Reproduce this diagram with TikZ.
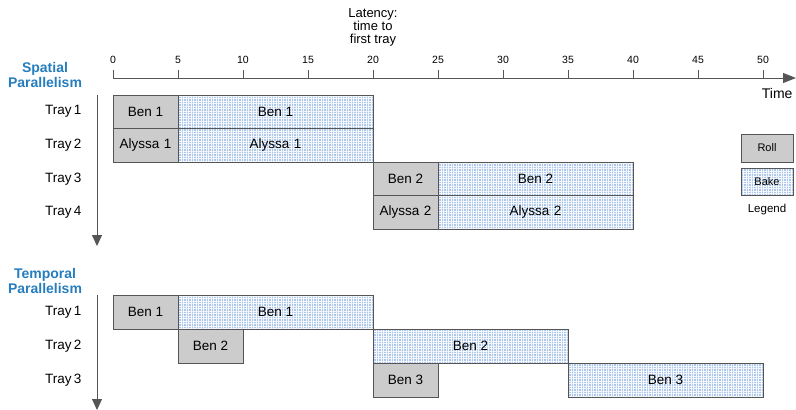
\documentclass[tikz,border=0pt]{standalone}
\usepackage{fontspec}
\setmainfont{Liberation Sans}
\usetikzlibrary{arrows.meta,patterns.meta}
\definecolor{titleblue}{RGB}{38,125,190}
\definecolor{rollfill}{RGB}{204,204,204}
\definecolor{edge}{RGB}{85,85,85}
\definecolor{bakebg}{RGB}{172,199,234}
\definecolor{bakeline}{RGB}{245,248,252}
\tikzdeclarepattern{
  name=finegrid,
  type=uncolored,
  bottom left={(-.1pt,-.1pt)},
  top right={(2.6pt,2.6pt)},
  tile size={(2.5pt,2.5pt)},
  code={\draw[line width=.7pt] (0,1.25pt) -- (2.5pt,1.25pt); \draw[line width=.6pt] (1.25pt,0) -- (1.25pt,2.5pt);}
}
\tikzset{
  box/.style={draw=edge, line width=0.8pt, rectangle, inner sep=0pt, font=\fontsize{13.5}{14}\selectfont},
  roll/.style={box, fill=rollfill},
  bake/.style={box, preaction={fill=bakebg}, pattern=finegrid, pattern color=bakeline},
  tray/.style={anchor=east, font=\fontsize{13.5}{14}\selectfont},
  tick/.style={font=\fontsize{10.5}{11}\selectfont},
  ttl/.style={font=\bfseries\fontsize{14}{16}\selectfont, text=titleblue, align=center},
  axis/.style={draw=edge, line width=1pt},
}
\begin{document}
\begin{tikzpicture}[x=1pt,y=-1pt]
\useasboundingbox (0,0) rectangle (796,410);
% time axis
\coordinate (a0) at (113,78);
\coordinate (aend) at (796,78);
\draw[axis, -{Triangle[length=13pt,width=10pt]}] (a0) -- (aend);
\foreach \t in {0,5,...,50}{
  \draw[axis] (113+13*\t,70) -- (113+13*\t,78);
  \node[tick] (t\t) at (113+13*\t,60) {\t};
}
\node[font=\fontsize{14}{15}\selectfont, anchor=east] (time) at (796,93) {Time};
\node[font=\fontsize{13}{13}\selectfont, align=center] (lat) at (373,27) {Latency:\\time to\\first tray};

% Spatial
\node[ttl] (sp) at (45,75) {Spatial\\[-1pt]Parallelism};
\coordinate (sv0) at (97,95);
\coordinate (sv1) at (97,246);
\draw[axis, -{Triangle[length=11pt,width=10pt]}] (sv0) -- (sv1);
\node[tray] (st1) at (85,111.75) {Tray\,1};
\node[tray] (st2) at (85,145.25) {Tray\,2};
\node[tray] (st3) at (85,178.75) {Tray\,3};
\node[tray] (st4) at (85,212.25) {Tray\,4};

\node[roll, minimum width=65pt, minimum height=33.5pt] (s1r) at (145.5,111.75) {Ben 1};
\node[bake, minimum width=195pt, minimum height=33.5pt] (s1b) at (275.5,111.75) {Ben 1};
\node[roll, minimum width=65pt, minimum height=33.5pt] (s2r) at (145.5,145.25) {Alyssa\,\,1};
\node[bake, minimum width=195pt, minimum height=33.5pt] (s2b) at (275.5,145.25) {Alyssa\,\,1};
\node[roll, minimum width=65pt, minimum height=33.5pt] (s3r) at (405.5,178.75) {Ben 2};
\node[bake, minimum width=195pt, minimum height=33.5pt] (s3b) at (535.5,178.75) {Ben 2};
\node[roll, minimum width=65pt, minimum height=33.5pt] (s4r) at (405.5,212.25) {Alyssa\,\,2};
\node[bake, minimum width=195pt, minimum height=33.5pt] (s4b) at (535.5,212.25) {Alyssa\,\,2};

% Legend
\node[roll, minimum width=52pt, minimum height=28pt, font=\fontsize{11}{12}\selectfont] (lroll) at (767,148) {Roll};
\node[bake, minimum width=52pt, minimum height=27pt, font=\fontsize{11}{12}\selectfont] (lbake) at (767,181.5) {Bake};
\node[font=\fontsize{11.5}{12}\selectfont] (leg) at (767,210) {Legend};

% Temporal
\node[ttl] (tp) at (45,281) {Temporal\\[-1pt]Parallelism};
\coordinate (tv0) at (97,295);
\coordinate (tv1) at (97,410);
\draw[axis, -{Triangle[length=11pt,width=10pt]}] (tv0) -- (tv1);
\node[tray] (tt1) at (85,312) {Tray\,1};
\node[tray] (tt2) at (85,346) {Tray\,2};
\node[tray] (tt3) at (85,380) {Tray\,3};

\node[roll, minimum width=65pt, minimum height=34pt] (t1r) at (145.5,312) {Ben 1};
\node[bake, minimum width=195pt, minimum height=34pt] (t1b) at (275.5,312) {Ben 1};
\node[roll, minimum width=65pt, minimum height=34pt] (t2r) at (210.5,346) {Ben 2};
\node[bake, minimum width=195pt, minimum height=34pt] (t2b) at (470.5,346) {Ben 2};
\node[roll, minimum width=65pt, minimum height=34pt] (t3r) at (405.5,380) {Ben 3};
\node[bake, minimum width=195pt, minimum height=34pt] (t3b) at (665.5,380) {Ben 3};
\end{tikzpicture}
\end{document}
